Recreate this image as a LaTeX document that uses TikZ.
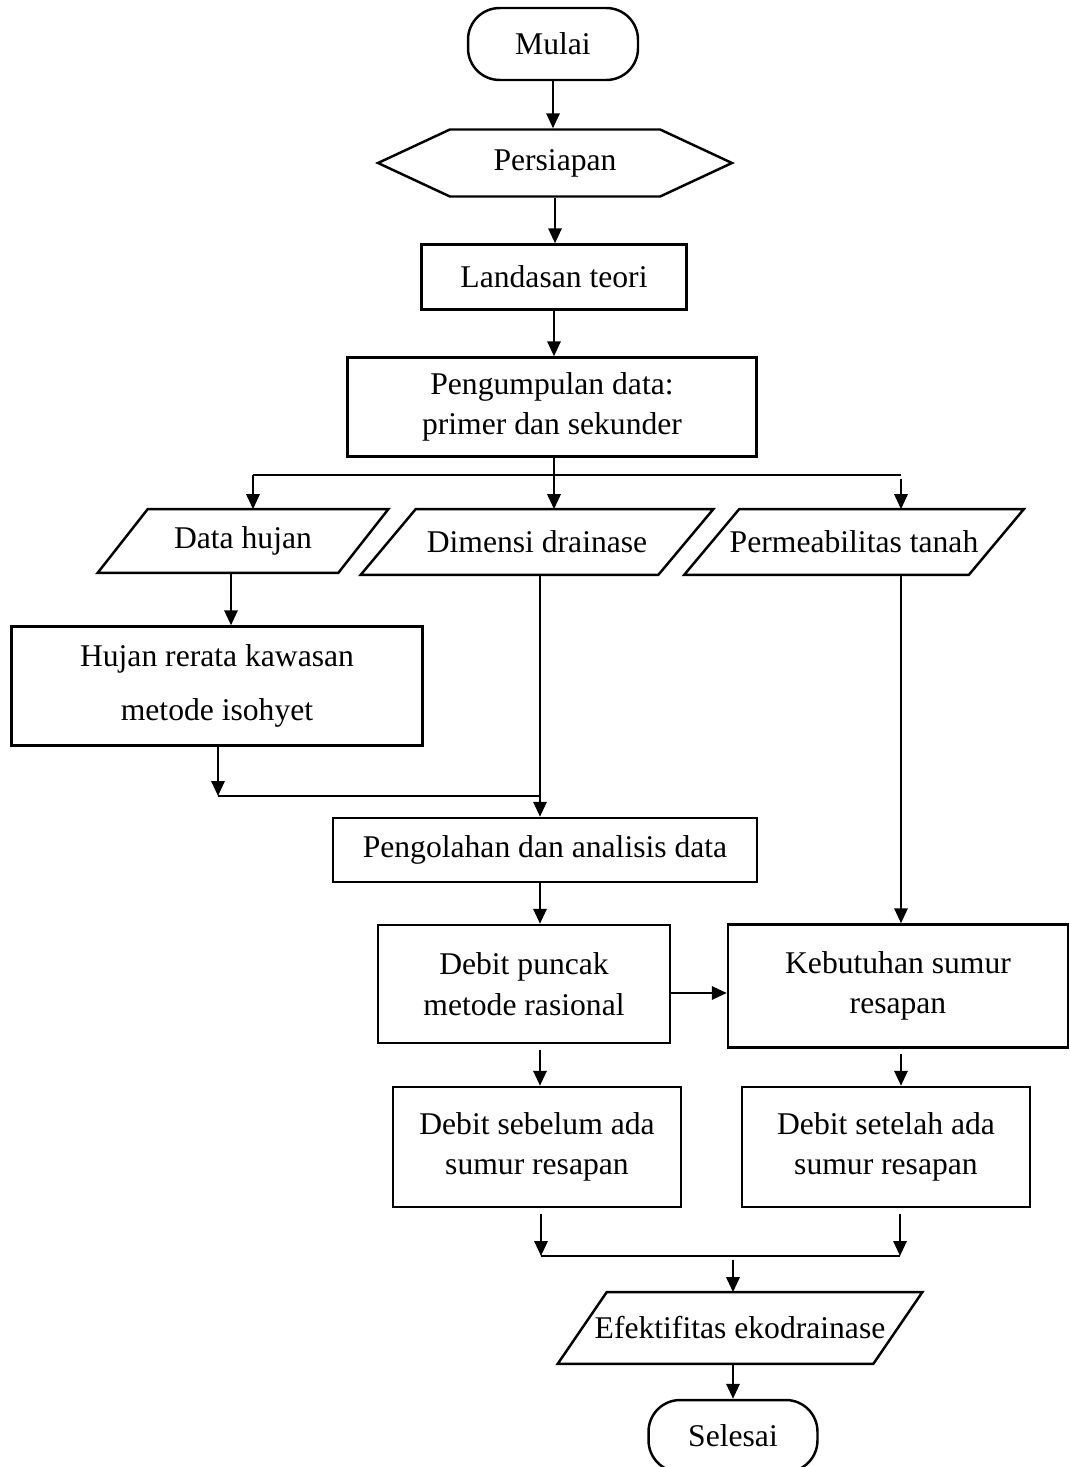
\documentclass[tikz,border=0pt]{standalone}
\usepackage{fontspec}
\setmainfont{Liberation Serif}
\usetikzlibrary{arrows.meta,shapes.symbols,calc}

\begin{document}
\begin{tikzpicture}[x=0.02cm,y=-0.02cm,
  every node/.style={font=\fontsize{18}{23}\selectfont,align=center,inner sep=0pt},
  box/.style={draw,line width=1.4pt},
  term/.style={draw,line width=1.4pt,rounded corners=18pt},
  prep/.style={draw,line width=1.4pt,signal,signal to=west and east,signal pointer angle=50},
  io/.style={draw=none},
  arr/.style={line width=1.4pt,-{Triangle[length=8.5pt,width=7.5pt]}},
  link/.style={line width=0.75pt}]
  \useasboundingbox (0,0) rectangle (1070,1467);

  % Start
  \node[term,minimum width=3.4cm,minimum height=1.44cm] (mulai) at (553,44) {Mulai};
  \node[prep,minimum width=7.08cm,minimum height=1.34cm] (persiapan) at (555,163) {Persiapan};
  \node[box,minimum width=5.3cm,minimum height=1.3cm] (landasan) at (554,277) {Landasan teori};
  \node[box,minimum width=8.18cm,minimum height=1.98cm] (kumpul) at (552,407) {Pengumpulan data:\\primer dan sekunder};

  % Input data
  \node[io,minimum width=4.8cm,minimum height=1.26cm] (hujan) at (243,541) {Data hujan};
  \node[io,minimum width=5.94cm,minimum height=1.3cm] (dimensi) at (537,542) {Dimensi drainase};
  \node[io,minimum width=5.68cm,minimum height=1.3cm] (permeab) at (854,542) {Permeabilitas tanah};

  % Processing
  \node[box,minimum width=8.22cm,minimum height=2.38cm] (rerata) at (217,686) {Hujan rerata kawasan\\[8pt]metode isohyet};
  \node[box,minimum width=8.48cm,minimum height=1.28cm] (olah) at (545,850) {Pengolahan dan analisis data};
  \node[box,minimum width=5.84cm,minimum height=2.36cm] (puncak) at (524,984) {Debit puncak\\metode rasional};
  \node[box,minimum width=6.8cm,minimum height=2.46cm] (butuh) at (898,986) {Kebutuhan sumur\\resapan};
  \node[box,minimum width=5.76cm,minimum height=2.4cm] (sebelum) at (537,1147) {Debit sebelum ada\\sumur resapan};
  \node[box,minimum width=5.76cm,minimum height=2.4cm] (setelah) at (886,1147) {Debit setelah ada\\sumur resapan};

  % Result
  \node[io,minimum width=6.3cm,minimum height=1.42cm] (efek) at (740,1328) {Efektifitas ekodrainase};
  \node[term,minimum width=3.38cm,minimum height=1.44cm] (selesai) at (733,1436) {Selesai};

  % Parallelogram outlines
  \foreach \n/\s in {hujan/0.5,dimensi/0.55,permeab/0.55,efek/0.49}
    \draw[line width=1.4pt] ([xshift=-\s cm]\n.south west) -- ([xshift=\s cm]\n.north west)
      -- ([xshift=\s cm]\n.north east) -- ([xshift=-\s cm]\n.south east) -- cycle;

  % Split and join points
  \coordinate (splitL) at (253,475);
  \coordinate (splitM) at (554,475);
  \coordinate (splitR) at (901,475);
  \coordinate (joinL) at (218,796);
  \coordinate (joinM) at (540,796);
  \coordinate (joinA) at (541,1256);
  \coordinate (joinB) at (900,1256);
  \coordinate (joinC) at (733,1256);

  % Connectors
  \draw[arr] (mulai.south) -- (mulai.south |- persiapan.north);
  \draw[arr] (persiapan.south) -- (persiapan.south |- landasan.north);
  \draw[arr] (landasan.south) -- (landasan.south |- kumpul.north);
  \draw[arr] (kumpul.south -| splitM) -- (splitM |- dimensi.north);
  \draw[link] (splitL) -- (splitR);
  \draw[arr] (splitL) -- (splitL |- hujan.north);
  \draw[arr] ([yshift=-2pt]splitR) -- (splitR |- permeab.north);
  \draw[arr] ([xshift=-0.24cm]hujan.south) -- ([xshift=-0.24cm]hujan.south |- rerata.north);
  \draw[arr] (rerata.south -| joinL) -- (joinL);
  \draw[link] (joinL) -- (joinM);
  \draw[arr] (dimensi.south -| joinM) -- (joinM |- olah.north);
  \draw[arr] (olah.south -| joinM) -- (joinM |- puncak.north);
  \draw[arr] (permeab.south -| splitR) -- (splitR |- butuh.north);
  \draw[arr] ([yshift=-0.18cm]puncak.east) -- ([yshift=-0.18cm]puncak.east -| butuh.west);
  \draw[arr,shorten <=3pt] (puncak.south -| joinM) -- (joinM |- sebelum.north);
  \draw[arr,shorten <=3pt] (butuh.south -| splitR) -- (splitR |- setelah.north);
  \draw[arr,shorten <=3pt] (sebelum.south -| joinA) -- (joinA);
  \draw[arr,shorten <=3pt] (setelah.south -| joinB) -- (joinB);
  \draw[link] (joinA) -- (joinB);
  \draw[arr] ([yshift=-2pt]joinC) -- (joinC |- efek.north);
  \draw[arr] (efek.south -| joinC) -- (selesai.north);
\end{tikzpicture}
\end{document}
